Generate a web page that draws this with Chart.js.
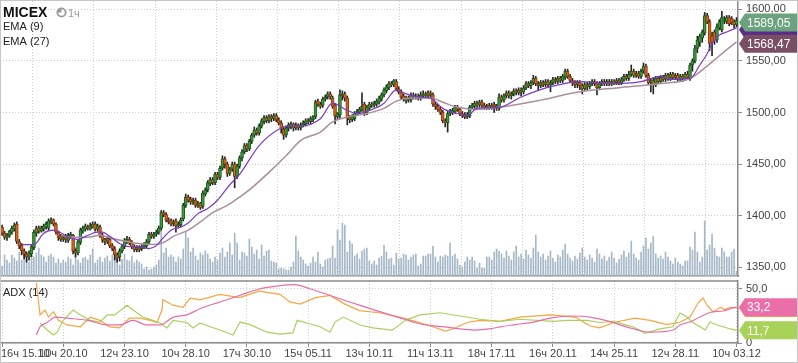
<!DOCTYPE html>
<html><head><meta charset="utf-8">
<script src="https://cdn.jsdelivr.net/npm/chart.js@4.4.1/dist/chart.umd.min.js"></script>
<style>
html,body{margin:0;padding:0;background:#fff;}
#wrap{position:relative;width:798px;height:363px;overflow:hidden;background:#fff;}
#cMain{position:absolute;left:0;top:0;}
#cAdx{position:absolute;left:0;top:280px;}
#frame{position:absolute;left:0;top:0;width:798px;height:363px;box-sizing:border-box;border:1px solid #c6c6c6;pointer-events:none;}
</style></head><body>
<div id="wrap">
<canvas id="cMain" width="798" height="277"></canvas>
<canvas id="cAdx" width="798" height="83"></canvas>
<div id="frame"></div>
</div>
<script>
// ---- hourly MICEX candles (bar index 0..300) ----
const open=[1389,1383,1379,1381,1384,1387,1392,1375,1371,1366,
1363,1360,1363,1369,1383,1388,1385,1387,1389,1388,
1394,1396,1392,1384,1380,1377,1379,1376,1380,1381,
1366,1364,1374,1385,1387,1390,1387,1389,1392,1387,
1389,1381,1377,1375,1377,1371,1368,1362,1360,1366,
1370,1375,1377,1374,1370,1367,1369,1368,1370,1371,
1375,1382,1380,1382,1384,1388,1403,1401,1396,1395,
1392,1395,1390,1391,1397,1410,1418,1416,1413,1415,
1410,1412,1409,1421,1425,1431,1435,1432,1440,1437,
1446,1455,1450,1441,1445,1450,1438,1448,1456,1462,
1468,1465,1472,1478,1483,1480,1487,1491,1495,1492,
1496,1494,1497,1493,1490,1484,1478,1485,1487,1489,
1485,1488,1485,1488,1489,1492,1491,1493,1496,1511,
1508,1507,1513,1515,1518,1514,1507,1496,1498,1516,
1518,1514,1495,1493,1494,1499,1500,1503,1508,1500,
1504,1508,1507,1508,1510,1513,1517,1521,1524,1528,
1527,1530,1523,1520,1516,1511,1514,1512,1517,1515,
1516,1514,1516,1518,1516,1519,1517,1508,1506,1503,
1500,1492,1490,1499,1500,1501,1505,1503,1499,1498,
1496,1497,1505,1506,1509,1507,1510,1507,1505,1507,
1505,1508,1506,1504,1515,1512,1516,1519,1516,1518,
1521,1519,1522,1520,1524,1528,1526,1529,1533,1528,
1526,1529,1527,1530,1527,1529,1532,1530,1533,1531,
1534,1540,1535,1531,1529,1527,1529,1526,1523,1527,
1525,1528,1530,1528,1524,1528,1530,1528,1530,1528,
1530,1529,1531,1529,1532,1535,1533,1537,1540,1536,
1538,1535,1540,1545,1536,1529,1531,1527,1533,1530,
1534,1532,1536,1533,1537,1534,1536,1532,1535,1533,
1537,1533,1546,1550,1562,1568,1572,1577,1594,1588,
1574,1578,1570,1582,1580,1589,1588,1592,1591,1588,1585];
const high=[1391,1385,1383,1386,1390,1393,1394,1377,1373,1368,
1365,1366,1372,1386,1390,1390,1390,1392,1394,1397,
1398,1397,1393,1385,1382,1381,1382,1383,1384,1382,
1368,1377,1388,1390,1392,1391,1393,1394,1394,1392,
1391,1383,1378,1380,1379,1373,1370,1364,1368,1372,
1378,1380,1379,1376,1372,1371,1371,1372,1374,1377,
1384,1384,1384,1386,1390,1405,1405,1403,1398,1397,
1396,1397,1394,1398,1412,1421,1420,1418,1417,1417,
1414,1413,1424,1427,1434,1437,1437,1442,1442,1448,
1458,1457,1452,1447,1452,1452,1450,1458,1464,1470,
1470,1474,1480,1486,1485,1489,1494,1497,1497,1498,
1498,1499,1499,1495,1492,1486,1487,1490,1491,1490,
1490,1489,1490,1492,1494,1494,1496,1497,1512,1513,
1510,1515,1517,1520,1520,1516,1509,1500,1522,1521,
1520,1516,1497,1498,1501,1503,1505,1519,1510,1507,
1510,1510,1511,1513,1516,1519,1524,1527,1530,1530,
1532,1532,1525,1522,1518,1516,1516,1519,1519,1518,
1518,1520,1521,1520,1521,1521,1519,1510,1508,1505,
1502,1494,1501,1503,1504,1507,1507,1504,1501,1500,
1500,1507,1509,1511,1511,1512,1512,1509,1508,1509,
1509,1510,1508,1518,1517,1518,1521,1521,1520,1523,
1523,1524,1524,1526,1530,1530,1531,1536,1535,1530,
1531,1531,1532,1532,1531,1534,1534,1535,1535,1537,
1542,1542,1537,1533,1531,1531,1531,1528,1529,1529,
1530,1532,1532,1530,1530,1532,1532,1532,1532,1532,
1532,1533,1533,1534,1537,1537,1540,1546,1542,1540,
1540,1542,1548,1547,1538,1533,1533,1535,1535,1536,
1536,1538,1538,1539,1539,1538,1538,1537,1537,1539,
1540,1548,1552,1565,1574,1576,1580,1597,1596,1590,
1578,1580,1586,1590,1598,1593,1594,1594,1593,1590,1592];
const low=[1381,1377,1376,1379,1382,1385,1373,1368,1362,1358,
1355,1357,1360,1367,1380,1383,1384,1385,1387,1386,
1392,1390,1382,1376,1375,1375,1374,1374,1378,1363,
1360,1362,1372,1383,1385,1386,1386,1388,1385,1385,
1379,1374,1372,1373,1369,1366,1357,1355,1356,1364,
1368,1373,1372,1368,1365,1365,1365,1366,1368,1369,
1373,1378,1378,1380,1382,1386,1399,1394,1392,1390,
1390,1384,1388,1389,1395,1408,1413,1411,1411,1408,
1408,1406,1407,1419,1423,1429,1430,1430,1435,1435,
1444,1446,1438,1439,1443,1427,1436,1446,1453,1460,
1462,1463,1470,1476,1478,1478,1485,1489,1490,1490,
1491,1492,1491,1488,1480,1474,1476,1482,1484,1482,
1483,1483,1483,1486,1487,1489,1489,1491,1494,1506,
1504,1505,1511,1513,1513,1504,1489,1493,1494,1512,
1511,1488,1490,1491,1492,1497,1498,1501,1497,1498,
1502,1505,1505,1506,1508,1511,1515,1519,1522,1525,
1525,1521,1518,1513,1511,1509,1510,1510,1513,1513,
1512,1512,1514,1514,1514,1515,1506,1503,1501,1498,
1490,1486,1481,1497,1498,1499,1501,1497,1495,1494,
1494,1495,1503,1504,1505,1505,1505,1503,1503,1503,
1503,1500,1502,1502,1510,1510,1514,1514,1513,1516,
1517,1517,1516,1518,1522,1524,1523,1527,1526,1522,
1524,1525,1525,1525,1520,1527,1528,1528,1529,1529,
1532,1533,1529,1526,1524,1524,1522,1518,1521,1522,
1523,1526,1526,1517,1522,1526,1526,1526,1526,1526,
1527,1527,1527,1527,1530,1531,1531,1535,1534,1534,
1533,1533,1538,1534,1527,1520,1518,1525,1528,1528,
1530,1530,1531,1531,1532,1532,1530,1530,1530,1531,
1532,1531,1540,1548,1558,1564,1568,1575,1586,1560,
1555,1566,1568,1580,1578,1586,1586,1584,1585,1582,1583];
const close=[1383,1379,1381,1385,1388,1391,1375,1371,1366,1363,
1360,1363,1370,1384,1388,1385,1388,1390,1392,1395,
1396,1392,1384,1379,1377,1379,1377,1381,1382,1366,
1364,1375,1386,1388,1390,1388,1390,1392,1387,1390,
1381,1376,1375,1378,1371,1368,1362,1359,1366,1370,
1376,1377,1374,1370,1367,1369,1367,1370,1372,1375,
1382,1380,1382,1384,1388,1403,1401,1396,1394,1392,
1394,1390,1392,1396,1410,1418,1415,1413,1415,1410,
1412,1408,1422,1425,1432,1435,1432,1440,1437,1446,
1455,1450,1441,1445,1450,1438,1448,1456,1462,1468,
1465,1472,1478,1483,1480,1487,1492,1495,1492,1496,
1494,1497,1493,1490,1484,1478,1485,1488,1489,1485,
1488,1485,1488,1490,1492,1491,1494,1495,1510,1508,
1506,1513,1515,1518,1515,1506,1497,1499,1517,1518,
1514,1495,1493,1496,1499,1501,1503,1506,1499,1505,
1508,1507,1509,1511,1514,1517,1522,1525,1528,1527,
1531,1523,1520,1515,1513,1514,1512,1517,1515,1516,
1514,1517,1518,1516,1519,1517,1508,1506,1503,1500,
1492,1490,1499,1501,1502,1505,1503,1499,1497,1496,
1498,1505,1507,1509,1507,1510,1507,1505,1506,1505,
1507,1506,1504,1515,1512,1516,1519,1516,1518,1521,
1519,1522,1520,1524,1528,1526,1529,1533,1528,1526,
1529,1527,1530,1527,1529,1532,1530,1533,1531,1535,
1540,1535,1531,1529,1527,1529,1526,1523,1527,1525,
1528,1530,1528,1524,1528,1530,1528,1530,1528,1530,
1529,1531,1529,1532,1535,1533,1537,1540,1536,1538,
1535,1540,1545,1536,1529,1531,1527,1533,1530,1534,
1532,1536,1533,1537,1534,1536,1532,1535,1533,1537,
1534,1546,1550,1562,1570,1574,1578,1594,1588,1567,
1568,1570,1583,1588,1592,1590,1592,1586,1587,1585,1589.05];
const volume=[10,21,16,13,21,18,15,24,16,24,
20,14,18,19,23,28,21,19,14,20,
22,19,13,17,13,16,14,19,17,11,
29,16,13,18,19,16,21,27,13,16,
19,14,18,20,15,21,22,21,11,17,
22,16,15,20,13,16,14,12,7,9,
6,7,9,11,16,48,23,28,19,21,
19,14,19,17,27,44,38,24,28,20,
16,23,21,25,22,17,14,19,16,23,
28,19,24,33,21,43,33,16,24,23,
20,37,29,22,26,17,31,20,25,26,
15,14,13,7,8,7,6,6,9,14,
40,25,19,16,12,10,13,19,14,24,
12,9,16,17,18,30,18,46,36,53,
51,24,35,32,20,22,17,25,27,28,
15,12,15,11,18,20,31,24,17,18,
11,23,17,18,22,21,16,19,21,22,
10,12,20,20,22,22,30,19,14,20,
19,21,20,33,20,22,17,11,9,14,
19,16,19,15,8,13,8,8,19,19,
16,24,27,25,22,18,25,20,16,24,
30,19,22,17,26,21,18,28,41,24,
19,22,16,20,25,18,14,21,19,26,
32,22,18,15,20,17,23,28,19,16,
21,18,14,27,22,17,20,15,19,24,
18,13,17,21,25,19,23,35,22,18,
16,24,30,38,27,33,40,22,18,20,
17,24,19,15,12,18,14,12,10,15,
15,29,26,44,24,14,19,55,26,31,
42,28,20,19,28,24,19,19,24,27,5];

// ---- EMA lines (bar index, value) ----
const ema9X=[8,13,17,21,23,27,31,35,39,41,44,48,52,56,60,63,66,69,73,76,80,84,88,93,97,105,114,118,122,130,135,141,145,150,156,161,164,170,175,180,186,190,194,203,212,224,236,248,261,269,273,279,281,285,288,290,293,296,299,300];
const ema9Y=[1372,1372,1383,1386,1385,1379,1377,1381,1384,1384,1380,1373,1370,1370,1368,1371,1379,1386,1389,1393,1402,1407,1415,1430,1440,1468,1485,1487,1487,1494,1509,1502,1499,1502,1509,1522,1519,1515,1514,1504,1499,1497,1504,1505,1515,1525,1530,1528,1530,1535,1532,1533,1533,1546,1557,1567,1575,1578,1581,1582];
const ema27X=[24,29,35,40,45,51,56,62,66,70,76,81,86,92,97,101,109,116,122,130,135,142,149,156,161,167,175,180,186,194,203,220,236,252,269,281,288,293,300];
const ema27Y=[1381,1379,1379,1381,1378,1375,1373,1372,1374,1380,1386,1394,1403,1410,1418,1425,1442,1458,1473,1481,1491,1496,1499,1504,1511,1514,1514,1510,1505,1503,1505,1512,1520,1524,1528,1533,1545,1555,1568.47];

// ---- ADX (14) panel ----
const adxX=[14,15.5,18,22,26.5,35,43,48,53.5,59,64.5,70,75.5,81,89,97,105,113.5,119.5,126,134,142,150,158.5,164.5,168.5,175,181,187,193,199,203.5,209.5,217,224,232,240,248,255,265,274,277,281,285,290,294.5,298.5,300];
const adxY=[7.4,15,18.5,24,23,21,16.7,16.7,21,16.7,16.7,24,26,32,38,44,50,53,54,50,44,38,32,26,22,19,16,15,13,12,13,15,17,19.4,23,25,24,20,15,10,12,16.7,19.4,24,28.7,29.6,32.4,33.2];
const plusX=[14,15.5,17.5,19,21,23,26.5,32,36,40,44,48,52,56.5,60.5,63.3,65.3,65.7,69.8,73.9,76.8,80.8,89,97,105,113.5,117.6,121.7,128,134,140,146,154,162.5,168.7,174.8,181,184,190,195,203.4,211.6,223.8,234,240,244,250,258.5,264.7,271.6,277,281,283,284.3,286.3,288,290.4,293.3,295.3,297.4,300];
const plusY=[55.6,26,30.5,24,29,21,16.7,15,24,21,15,14,23,23,21,19,30.5,40,35,33,41.6,40,45,42,48,45,38,36,42,44,36,30,28,24,20,16,11,13,19,21,20,24,26,24,16,14,19,23,21,17,19.4,24,32,37,41.6,35,28.7,33,31,33,32.4];
const minusX=[15.5,18.4,21,22.5,25,29,32,36,40,43,46,51,53.5,57.5,61.6,64.5,67.4,69.8,75.5,78,80.8,85,89,94.3,97.2,101.3,108.2,113.5,118.8,120.5,124.5,129.9,134,136,139.3,146.2,151.5,159.3,162.5,164.6,170.7,178.9,187,195.2,203.4,211.6,225,230.8,238.9,244.2,249.5,257.7,262.6,268.8,274,276.9,279.8,281.8,285.1,287.2,289.2,292,294.5,297.4,300];
const minusY=[18.5,12,7.4,10,21,30.5,26,21,19.4,26,26,35,30.5,24,21,18.5,13.9,21,19,13.9,18.5,15,12,7.4,19.4,17,10,8.3,9.3,21,18.5,15,10,19.4,24,16.7,14,12,17,21,26,28,25,22,20,22,20,21,21,19,20,15,9,13,15,27.8,24,19.4,15,12,19.4,16.7,15,13,11.7];

// ---- axes ----
const tickBars=[0,25,50,75,100,125,150,175,200,225,250,275,300];
const tickLabels=["16ч 15.10","10ч 20.10","12ч 23.10","10ч 28.10","17ч 30.10","15ч 05.11","13ч 10.11","11ч 13.11","18ч 17.11","16ч 20.11","14ч 25.11","12ч 28.11","10ч 03.12"];
const priceTicks=[1350,1400,1450,1500,1550,1600];
const adxTicks=[0,50];

const X_MIN=-0.86, X_MAX=300.6;
const P_MIN=1341.57, P_MAX=1608.04;
const FONT="Arial, 'Liberation Sans', sans-serif";
Chart.defaults.font.family=FONT;
Chart.defaults.font.size=11;

const gridColor='#c9d0c9', axisColor='#8a8a8a';
const UPF='#3d9b3d', UPL='#1c5a1c', DNF='#d6661e', DNL='#8c3a0c';
const up=close.map((c,i)=>c>=open[i]);
const pts=(xs,ys)=>xs.map((x,i)=>({x:x,y:ys[i]}));
const fmt=(v,d)=>v.toFixed(d).replace('.',',');

function boxLabel(ctx,y,text,color,axisX,right){
  const h=18;
  ctx.beginPath();
  ctx.moveTo(axisX+1,y);
  ctx.lineTo(axisX+7,y-h/2);
  ctx.lineTo(right,y-h/2);
  ctx.lineTo(right,y+h/2);
  ctx.lineTo(axisX+7,y+h/2);
  ctx.closePath();
  ctx.fillStyle=color; ctx.fill();
  if(text){
    ctx.fillStyle='#ffffff';
    ctx.font='12px '+FONT;
    ctx.textAlign='left'; ctx.textBaseline='middle';
    ctx.fillText(text,axisX+9,y+1);
  }
}

const mainDecor={
  id:'mainDecor',
  afterDraw(chart){
    const ctx=chart.ctx, ys=chart.scales.y, ca=chart.chartArea;
    ctx.save();
    const e9=ema9Y[ema9Y.length-1], e27=ema27Y[ema27Y.length-1], last=close[close.length-1];
    boxLabel(ctx,ys.getPixelForValue(e9)+2,'','#5a2a8a',ca.right,797);
    boxLabel(ctx,ys.getPixelForValue(last)+2,fmt(last,2),'#6aa37e',ca.right,797);
    boxLabel(ctx,ys.getPixelForValue(e27)+2,fmt(e27,2),'#7a4e65',ca.right,797);
    // title + legend
    ctx.textAlign='left'; ctx.textBaseline='alphabetic';
    ctx.fillStyle='#111'; ctx.font='bold 14px '+FONT;
    ctx.fillText('MICEX',3,17);
    ctx.beginPath(); ctx.arc(61.5,12.5,5,0,Math.PI*2); ctx.fillStyle='#9a9a9a'; ctx.fill();
    ctx.beginPath(); ctx.moveTo(61.5,12.5); ctx.arc(61.5,12.5,3.2,-Math.PI/2,Math.PI); ctx.closePath(); ctx.fillStyle='#fff'; ctx.fill();
    ctx.fillStyle='#9a9a9a'; ctx.font='11px '+FONT;
    ctx.fillText('1ч',68,17);
    ctx.fillStyle='#222'; ctx.font='11px '+FONT;
    ctx.fillText('EMA (9)',3,30);
    ctx.fillText('EMA (27)',3,45);
    ctx.restore();
  }
};

const adxDecor={
  id:'adxDecor',
  afterDraw(chart){
    const ctx=chart.ctx, ys=chart.scales.y, xs=chart.scales.x, ca=chart.chartArea;
    ctx.save();
    ctx.strokeStyle=axisColor; ctx.lineWidth=1.5;
    ctx.beginPath(); ctx.moveTo(0,ca.top); ctx.lineTo(ca.right,ca.top); ctx.stroke();
    ctx.fillStyle='#222'; ctx.font='11px '+FONT; ctx.textAlign='left'; ctx.textBaseline='alphabetic';
    ctx.fillText('ADX (14)',3,ca.top+15);
    ctx.fillStyle='#444'; ctx.font='11px '+FONT;
    tickBars.forEach((b,i)=>{
      const px=xs.getPixelForValue(b);
      const w=ctx.measureText(tickLabels[i]).width;
      let x0=px-w/2; if(x0<1) x0=1;
      ctx.fillText(tickLabels[i],x0,ca.bottom+14);
    });
    const pl=plusY[plusY.length-1], ad=adxY[adxY.length-1], mi=minusY[minusY.length-1];
    boxLabel(ctx,ys.getPixelForValue(pl),fmt(pl,1),'#f6a23e',ca.right,797);
    boxLabel(ctx,ys.getPixelForValue(ad),fmt(ad,1),'#ea6ea8',ca.right,797);
    boxLabel(ctx,ys.getPixelForValue(mi),fmt(mi,1),'#a8d258',ca.right,797);
    ctx.restore();
  }
};

const noPad=s=>{s.paddingTop=0;s.paddingBottom=0;s.paddingLeft=0;s.paddingRight=0;};
const xScale=(h,ticksOn)=>({
  type:'linear', min:X_MIN, max:X_MAX, offset:false,
  afterBuildTicks:s=>{s.ticks=tickBars.map(v=>({value:v}));},
  afterFit:s=>{s.height=h;noPad(s);},
  ticks:{display:false},
  grid:{color:gridColor, drawTicks:ticksOn, tickLength:4, tickColor:axisColor, tickBorderDash:[]},
  border:{display:true,color:axisColor,width:1.5,dash:[1,2]}
});

new Chart(document.getElementById('cMain'),{
  type:'bar',
  data:{datasets:[
    {type:'line',label:'EMA (9)',data:pts(ema9X,ema9Y),borderColor:'#7a3cc2',borderWidth:1.2,pointRadius:0,cubicInterpolationMode:'monotone',order:1,yAxisID:'y'},
    {type:'line',label:'EMA (27)',data:pts(ema27X,ema27Y),borderColor:'#a98f9c',borderWidth:1.5,pointRadius:0,cubicInterpolationMode:'monotone',order:2,yAxisID:'y'},
    {label:'MICEX',data:close.map((c,i)=>({x:i,y:[open[i],c]})),backgroundColor:up.map(u=>u?UPF:DNF),borderColor:up.map(u=>u?UPL:DNL),borderWidth:1,borderSkipped:false,barThickness:3,grouped:false,order:3,yAxisID:'y'},
    {label:'range',data:close.map((c,i)=>({x:i,y:[low[i],high[i]]})),backgroundColor:'#262626',barThickness:1,grouped:false,order:4,yAxisID:'y'},
    {label:'Volume',data:volume.map((v,i)=>({x:i,y:v})),backgroundColor:'#a6b8c7',barThickness:1,grouped:false,order:5,yAxisID:'yv'}
  ]},
  options:{
    responsive:false, animation:false, events:[],
    layout:{padding:{top:1,bottom:1,left:0,right:0}},
    plugins:{legend:{display:false},tooltip:{enabled:false}},
    scales:{
      x:xScale(0,false),
      y:{position:'right',min:P_MIN,max:P_MAX,
        afterBuildTicks:s=>{s.ticks=priceTicks.map(v=>({value:v}));},
        afterFit:s=>{s.width=60;noPad(s);},
        ticks:{callback:v=>fmt(v,2),color:'#444',padding:4},
        grid:{color:gridColor,drawTicks:true,tickLength:4,tickColor:axisColor,tickBorderDash:[]},
        border:{display:true,color:axisColor,width:1.5,dash:[1,2]}},
      yv:{display:false,min:0,max:275}
    }
  },
  plugins:[mainDecor]
});

new Chart(document.getElementById('cAdx'),{
  type:'line',
  data:{datasets:[
    {label:'+DI',data:pts(plusX,plusY),borderColor:'#f6a540',borderWidth:1.2,pointRadius:0,tension:0,order:3},
    {label:'-DI',data:pts(minusX,minusY),borderColor:'#aad15e',borderWidth:1.2,pointRadius:0,tension:0,order:2},
    {label:'ADX (14)',data:pts(adxX,adxY),borderColor:'#ea6ca8',borderWidth:1.2,pointRadius:0,cubicInterpolationMode:'monotone',order:1}
  ]},
  options:{
    responsive:false, animation:false, events:[],
    layout:{padding:{top:1,bottom:0,left:0,right:0}},
    plugins:{legend:{display:false},tooltip:{enabled:false}},
    scales:{
      x:xScale(20,true),
      y:{position:'right',min:0,max:57.4,
        afterBuildTicks:s=>{s.ticks=adxTicks.map(v=>({value:v}));},
        afterFit:s=>{s.width=60;noPad(s);},
        ticks:{callback:v=>v===0?'0':fmt(v,1),color:'#444',padding:4},
        grid:{color:gridColor,drawTicks:true,tickLength:4,tickColor:axisColor,tickBorderDash:[]},
        border:{display:true,color:axisColor,width:1.5,dash:[1,2]}}
    }
  },
  plugins:[adxDecor]
});
</script>
</body></html>
